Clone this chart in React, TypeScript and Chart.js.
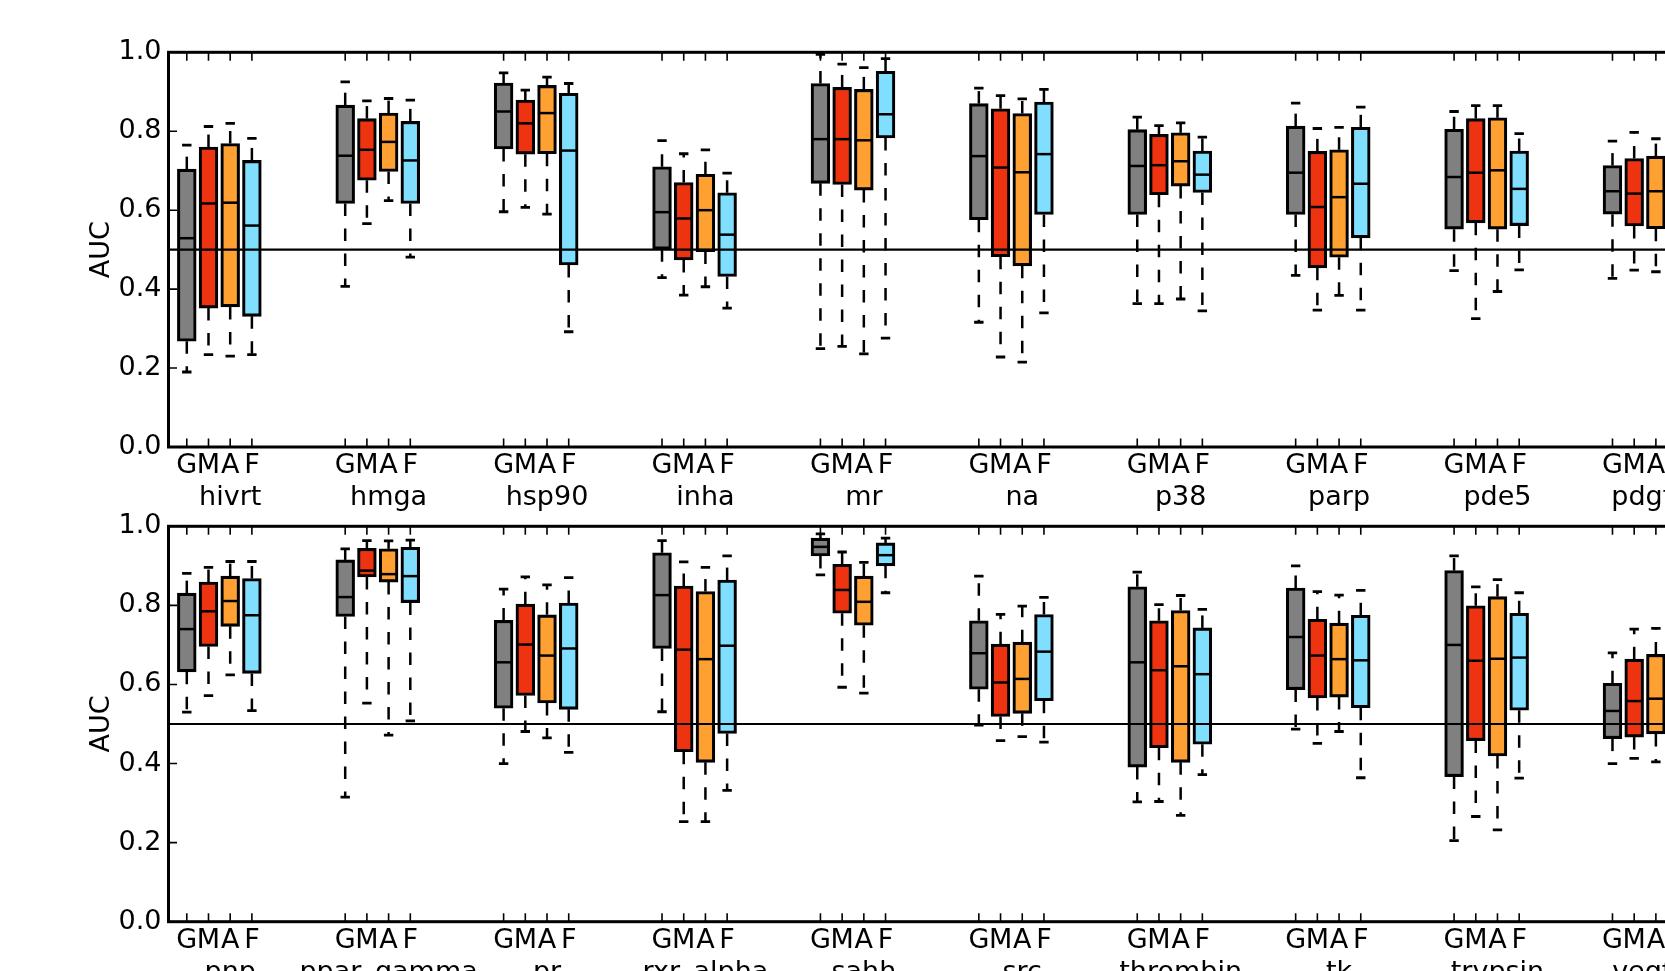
import React, { useEffect, useRef } from "react";
import { Chart, registerables } from "chart.js";

Chart.register(...registerables);

// ---------------- data ----------------
const methodLabels = ["G", "M", "A", "F"];
const methodColors = ["#808080", "#ee3311", "#ffa032", "#80dfff"];

// each entry: [whisker low, Q1, median, Q3, whisker high]
const topTargets = ["hivrt", "hmga", "hsp90", "inha", "mr", "na", "p38", "parp", "pde5", "pdgfrb"];
const topGray = [
  [0.190, 0.268, 0.529, 0.704, 0.765],
  [0.407, 0.617, 0.738, 0.866, 0.925],
  [0.596, 0.755, 0.850, 0.922, 0.948],
  [0.429, 0.501, 0.595, 0.710, 0.776],
  [0.249, 0.668, 0.780, 0.921, 0.995],
  [0.316, 0.576, 0.737, 0.870, 0.909],
  [0.363, 0.589, 0.712, 0.804, 0.836],
  [0.435, 0.589, 0.695, 0.813, 0.871],
  [0.447, 0.552, 0.684, 0.805, 0.850],
  [0.427, 0.590, 0.648, 0.713, 0.775],
];
const topRed = [
  [0.234, 0.352, 0.617, 0.760, 0.812],
  [0.566, 0.676, 0.753, 0.832, 0.877],
  [0.607, 0.742, 0.820, 0.879, 0.904],
  [0.385, 0.474, 0.579, 0.670, 0.743],
  [0.255, 0.665, 0.780, 0.911, 0.970],
  [0.228, 0.482, 0.708, 0.857, 0.890],
  [0.363, 0.639, 0.714, 0.792, 0.814],
  [0.347, 0.454, 0.608, 0.749, 0.807],
  [0.325, 0.568, 0.695, 0.832, 0.865],
  [0.448, 0.560, 0.642, 0.731, 0.797],
];
const topOrange = [
  [0.230, 0.355, 0.619, 0.769, 0.820],
  [0.624, 0.698, 0.773, 0.846, 0.883],
  [0.590, 0.743, 0.846, 0.916, 0.937],
  [0.406, 0.495, 0.600, 0.691, 0.753],
  [0.236, 0.651, 0.777, 0.906, 0.961],
  [0.215, 0.459, 0.696, 0.845, 0.882],
  [0.375, 0.661, 0.724, 0.796, 0.821],
  [0.384, 0.481, 0.633, 0.753, 0.810],
  [0.394, 0.552, 0.701, 0.834, 0.865],
  [0.444, 0.553, 0.648, 0.737, 0.781],
];
const topBlue = [
  [0.234, 0.331, 0.561, 0.726, 0.782],
  [0.481, 0.617, 0.726, 0.825, 0.879],
  [0.292, 0.461, 0.751, 0.896, 0.921],
  [0.352, 0.432, 0.538, 0.644, 0.694],
  [0.276, 0.783, 0.843, 0.952, 0.984],
  [0.340, 0.589, 0.742, 0.874, 0.906],
  [0.345, 0.645, 0.690, 0.750, 0.785],
  [0.347, 0.530, 0.667, 0.810, 0.861],
  [0.449, 0.561, 0.654, 0.750, 0.794],
  [0.450, 0.570, 0.650, 0.720, 0.770],
];

const bottomTargets = ["pnp", "ppar_gamma", "pr", "rxr_alpha", "sahh", "src", "thrombin", "tk", "trypsin", "vegfr2"];
const bottomGray = [
  [0.530, 0.632, 0.740, 0.831, 0.881],
  [0.315, 0.772, 0.821, 0.915, 0.943],
  [0.400, 0.540, 0.656, 0.762, 0.841],
  [0.531, 0.691, 0.826, 0.933, 0.964],
  [0.877, 0.925, 0.948, 0.970, 0.981],
  [0.497, 0.588, 0.679, 0.761, 0.874],
  [0.303, 0.391, 0.656, 0.847, 0.884],
  [0.487, 0.587, 0.720, 0.844, 0.900],
  [0.205, 0.367, 0.700, 0.888, 0.925],
  [0.400, 0.463, 0.533, 0.603, 0.680],
];
const bottomRed = [
  [0.572, 0.696, 0.785, 0.859, 0.896],
  [0.553, 0.872, 0.888, 0.944, 0.964],
  [0.481, 0.572, 0.701, 0.803, 0.872],
  [0.253, 0.430, 0.688, 0.849, 0.910],
  [0.593, 0.780, 0.839, 0.904, 0.935],
  [0.458, 0.519, 0.605, 0.702, 0.777],
  [0.304, 0.440, 0.636, 0.761, 0.802],
  [0.451, 0.566, 0.673, 0.765, 0.835],
  [0.266, 0.458, 0.660, 0.799, 0.847],
  [0.413, 0.467, 0.558, 0.664, 0.740],
];
const bottomOrange = [
  [0.624, 0.747, 0.811, 0.874, 0.911],
  [0.472, 0.859, 0.879, 0.943, 0.963],
  [0.465, 0.553, 0.673, 0.776, 0.852],
  [0.253, 0.403, 0.664, 0.835, 0.896],
  [0.578, 0.750, 0.809, 0.874, 0.909],
  [0.468, 0.527, 0.614, 0.707, 0.798],
  [0.269, 0.403, 0.646, 0.787, 0.825],
  [0.481, 0.568, 0.664, 0.755, 0.826],
  [0.232, 0.419, 0.665, 0.822, 0.865],
  [0.404, 0.475, 0.564, 0.676, 0.742],
];
const bottomBlue = [
  [0.534, 0.628, 0.775, 0.868, 0.911],
  [0.508, 0.807, 0.874, 0.947, 0.965],
  [0.428, 0.537, 0.691, 0.806, 0.870],
  [0.332, 0.476, 0.698, 0.864, 0.925],
  [0.832, 0.900, 0.927, 0.958, 0.970],
  [0.454, 0.559, 0.683, 0.777, 0.820],
  [0.372, 0.449, 0.626, 0.743, 0.790],
  [0.364, 0.541, 0.661, 0.775, 0.838],
  [0.363, 0.535, 0.668, 0.780, 0.832],
  [0.410, 0.480, 0.560, 0.660, 0.720],
];

const yTickValues = [0, 0.2, 0.4, 0.6, 0.8, 1.0];
const referenceAUC = 0.5;
const groupStep = 7.3;

// ---------------- layout / style ----------------
const FONT = "'DejaVu Sans', sans-serif";
const FONT_SIZE = 27;
const CANVAS_W = 1710;
const AREA_LEFT = 168.5;
const X_MIN = -0.843;
const X_MAX = 69.54;
const UNIT_PX = 21.7;
const AREA_RIGHT = AREA_LEFT + (X_MAX - X_MIN) * UNIT_PX;
const PAD_LEFT = 86.2;
const Y_AXIS_W = AREA_LEFT - PAD_LEFT;
const BOX_W = 18.8;
const TICK_LEN = 8.5;

const boxExtras = {
  id: "boxExtras",
  afterDatasetsDraw(chart: any) {
    const ctx = chart.ctx;
    const xs = chart.scales.x;
    const ys = chart.scales.y;
    const area = chart.chartArea;
    const half = BOX_W / 2;
    const capHalf = BOX_W / 4;
    ctx.save();
    ctx.strokeStyle = "#000";
    ctx.lineCap = "butt";
    chart.data.datasets.forEach((ds: any) => {
      ds.data.forEach((d: any) => {
        const x = xs.getPixelForValue(d.x);
        const [lo, q1, med, q3, hi] = d.stats;
        const yLo = ys.getPixelForValue(lo);
        const yQ1 = ys.getPixelForValue(q1);
        const yMed = ys.getPixelForValue(med);
        const yQ3 = ys.getPixelForValue(q3);
        const yHi = ys.getPixelForValue(hi);
        ctx.lineWidth = 2.5;
        ctx.setLineDash([12.5, 12.5]);
        ctx.lineDashOffset = 0;
        ctx.beginPath();
        ctx.moveTo(x, yQ3);
        ctx.lineTo(x, yHi);
        ctx.stroke();
        ctx.beginPath();
        ctx.moveTo(x, yQ1);
        ctx.lineTo(x, yLo);
        ctx.stroke();
        ctx.setLineDash([]);
        ctx.lineWidth = 2.8;
        ctx.beginPath();
        ctx.moveTo(x - capHalf, yHi);
        ctx.lineTo(x + capHalf, yHi);
        ctx.moveTo(x - capHalf, yLo);
        ctx.lineTo(x + capHalf, yLo);
        ctx.stroke();
        ctx.lineWidth = 2.5;
        ctx.beginPath();
        ctx.moveTo(x - half + 1.5, yMed);
        ctx.lineTo(x + half - 1.5, yMed);
        ctx.stroke();
      });
    });
    // reference line at AUC 0.5
    const yRef = ys.getPixelForValue(referenceAUC);
    ctx.lineWidth = 2.2;
    ctx.beginPath();
    ctx.moveTo(area.left, yRef);
    ctx.lineTo(area.right, yRef);
    ctx.stroke();
    // inward ticks
    ctx.lineWidth = 1.6;
    ctx.beginPath();
    yTickValues.forEach((v) => {
      const y = ys.getPixelForValue(v);
      ctx.moveTo(area.left, y);
      ctx.lineTo(area.left + TICK_LEN, y);
      ctx.moveTo(area.right, y);
      ctx.lineTo(area.right - TICK_LEN, y);
    });
    xs.ticks.forEach((t: any) => {
      const x = xs.getPixelForValue(t.value);
      ctx.moveTo(x, area.bottom);
      ctx.lineTo(x, area.bottom - TICK_LEN);
      ctx.moveTo(x, area.top);
      ctx.lineTo(x, area.top + TICK_LEN);
    });
    ctx.stroke();
    // spines
    ctx.lineWidth = 3;
    ctx.strokeRect(area.left, area.top, area.right - area.left, area.bottom - area.top);
    ctx.restore();
  },
};

type PanelProps = {
  top: number;
  height: number;
  areaTop: number;
  areaBottom: number;
  targets: string[];
  series: number[][][];
};

function Panel({ top, height, areaTop, areaBottom, targets, series }: PanelProps) {
  const ref = useRef<HTMLCanvasElement | null>(null);
  useEffect(() => {
    if (!ref.current) return;
    const positions: number[] = [];
    const labels: string[][] = [];
    targets.forEach((t, g) => {
      methodLabels.forEach((m, j) => {
        positions.push(g * groupStep + j);
        labels.push([m, j === 2 ? t : ""]);
      });
    });
    const datasets = series.map((s, j) => ({
      label: methodLabels[j],
      data: s.map((b, g) => ({ x: g * groupStep + j, y: [b[1], b[3]], stats: b })),
      backgroundColor: methodColors[j],
      borderColor: "#000",
      borderWidth: 3.1,
      borderSkipped: false,
      barThickness: BOX_W,
      grouped: false,
    }));
    const chart = new Chart(ref.current, {
      type: "bar",
      data: { datasets } as any,
      plugins: [boxExtras],
      options: {
        animation: false,
        responsive: false,
        devicePixelRatio: 1,
        layout: {
          padding: { left: PAD_LEFT, right: CANVAS_W - AREA_RIGHT, top: areaTop, bottom: 0 },
        },
        plugins: { legend: { display: false }, tooltip: { enabled: false } },
        scales: {
          x: {
            type: "linear",
            min: X_MIN,
            max: X_MAX,
            offset: false,
            grid: { display: false, drawTicks: false },
            border: { display: false },
            afterBuildTicks: (s: any) => {
              s.ticks = positions.map((v) => ({ value: v }));
            },
            afterFit: (s: any) => {
              s.height = height - areaBottom;
            },
            ticks: {
              autoSkip: false,
              maxRotation: 0,
              minRotation: 0,
              padding: 3,
              color: "#000",
              font: { family: FONT, size: FONT_SIZE, lineHeight: 32 / FONT_SIZE },
              callback: (_v: any, i: number) => labels[i],
            },
          },
          y: {
            type: "linear",
            min: 0,
            max: 1,
            afterBuildTicks: (s: any) => {
              s.ticks = yTickValues.map((v) => ({ value: v }));
            },
            afterFit: (s: any) => {
              s.width = Y_AXIS_W;
            },
            grid: { display: false, drawTicks: false },
            border: { display: false },
            ticks: {
              padding: 7,
              color: "#000",
              font: { family: FONT, size: FONT_SIZE },
              callback: (v: any) => Number(v).toFixed(1),
            },
            title: {
              display: true,
              text: "AUC",
              color: "#000",
              padding: 0,
              font: { family: FONT, size: FONT_SIZE },
            },
          },
        },
      } as any,
    });
    return () => chart.destroy();
  }, []);
  return (
    <canvas
      ref={ref}
      width={CANVAS_W}
      height={height}
      style={{ position: "absolute", left: 0, top, width: CANVAS_W, height }}
    />
  );
}

export default function App() {
  return (
    <div
      style={{
        position: "fixed",
        left: 0,
        top: 0,
        width: 1665,
        height: 971,
        overflow: "hidden",
        background: "#fff",
      }}
    >
      <Panel
        top={0}
        height={540}
        areaTop={52.3}
        areaBottom={447}
        targets={topTargets}
        series={[topGray, topRed, topOrange, topBlue]}
      />
      <Panel
        top={480}
        height={560}
        areaTop={46.3}
        areaBottom={441.7}
        targets={bottomTargets}
        series={[bottomGray, bottomRed, bottomOrange, bottomBlue]}
      />
    </div>
  );
}
